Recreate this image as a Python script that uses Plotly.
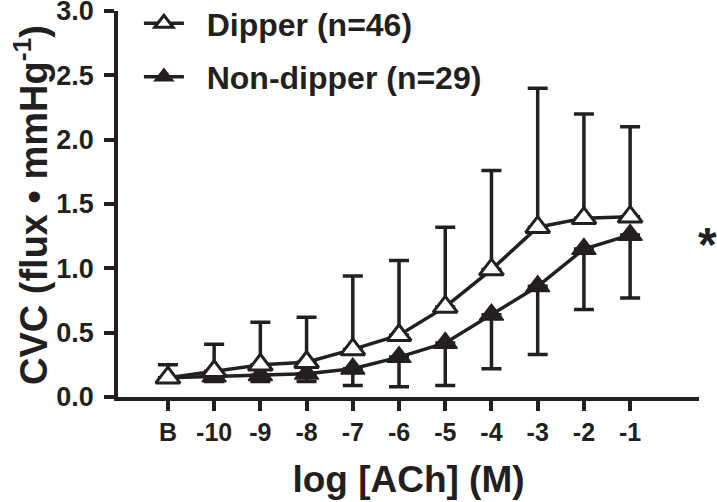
import plotly.graph_objects as go

categories = ["B", "-10", "-9", "-8", "-7", "-6", "-5", "-4", "-3", "-2", "-1"]
dipper_mean = [0.15, 0.20, 0.25, 0.27, 0.37, 0.48, 0.70, 0.99, 1.32, 1.39, 1.40]
dipper_upper = [0.25, 0.41, 0.58, 0.62, 0.94, 1.06, 1.32, 1.76, 2.40, 2.20, 2.10]
nondipper_mean = [0.15, 0.16, 0.17, 0.18, 0.22, 0.31, 0.42, 0.64, 0.86, 1.15, 1.26]
nondipper_lower = [0.12, 0.12, 0.12, 0.12, 0.09, 0.08, 0.09, 0.22, 0.33, 0.68, 0.77]

ink = "#231f20"
font_family = "Liberation Sans, Arial, sans-serif"

fig = go.Figure()
fig.add_trace(go.Scatter(
    x=categories, y=nondipper_mean, mode="lines+markers", name="&nbsp;&nbsp;<b>Non-dipper (n=29)</b>",
    legendgroup="nd", legendrank=2,
    line=dict(color=ink, width=3.5),
    marker=dict(symbol="triangle-up", size=21, color=ink, line=dict(color=ink, width=1.5)),
    error_y=dict(type="data", symmetric=False,
                 array=[0] * len(categories),
                 arrayminus=[m - l for m, l in zip(nondipper_mean, nondipper_lower)],
                 color=ink, thickness=3.5, width=10),
    cliponaxis=False,
))
fig.add_trace(go.Scatter(
    x=categories, y=dipper_mean, mode="lines+markers", name="&nbsp;&nbsp;<b>Dipper (n=46)</b>",
    legendgroup="d", legendrank=1,
    line=dict(color=ink, width=3.5),
    marker=dict(symbol="triangle-up", size=21, color="white", line=dict(color=ink, width=3)),
    error_y=dict(type="data", symmetric=False,
                 array=[u - m for u, m in zip(dipper_upper, dipper_mean)],
                 arrayminus=[0] * len(categories),
                 color=ink, thickness=3.5, width=10),
    cliponaxis=False,
))

# significance marker next to the last Non-dipper point
fig.add_annotation(x=len(categories) - 1, xref="x", xanchor="center", xshift=77,
                   y=nondipper_mean[-1], yref="y", yanchor="middle", yshift=-10,
                   text="<b>*</b>", showarrow=False, font=dict(size=48, color=ink, family=font_family))

# y-axis title
fig.add_annotation(x=-0.150, xref="paper", xanchor="center", y=0.497, yref="paper", yanchor="middle",
                   textangle=-90, showarrow=False,
                   text="<b>CVC (flux \u2022 mmHg<sup>-1</sup>)</b>", font=dict(size=38, color=ink, family=font_family))

fig.update_layout(
    width=717, height=502,
    margin=dict(l=118, r=18, t=11, b=105, autoexpand=False),
    paper_bgcolor="white", plot_bgcolor="white",
    font=dict(family=font_family, color=ink),
    showlegend=True,
    legend=dict(x=0.036, y=1.039, xanchor="left", yanchor="top", bgcolor="rgba(0,0,0,0)",
                font=dict(size=32, color=ink), traceorder="grouped", tracegroupgap=9,
                itemwidth=40),
    xaxis=dict(type="category", categoryorder="array", categoryarray=categories,
               range=[-1.08, 11.49], showgrid=False, zeroline=False,
               showline=True, linecolor=ink, linewidth=3.5,
               ticks="outside", ticklen=10, tickwidth=3.5, tickcolor=ink,
               tickfont=dict(size=25, color=ink),
               tickprefix="<b>", ticksuffix="</b>",
               title=dict(text="<b>log [ACh] (M)</b>", font=dict(size=37, color=ink), standoff=22)),
    yaxis=dict(range=[0, 3.0], dtick=0.5, tickformat=".1f", showgrid=False, zeroline=False,
               showline=True, linecolor=ink, linewidth=3.5,
               ticks="outside", ticklen=10, tickwidth=3.5, tickcolor=ink, ticklabelstandoff=5,
               ticklabeloverflow="allow",
               tickfont=dict(size=27, color=ink),
               tickprefix="<b>", ticksuffix="</b>"),
)

# remove the browser's default page margin so the figure sits at the window's top-left corner
fig.write_html("out.html", config={"displayModeBar": False},
               post_script="document.body.style.margin='0';")
